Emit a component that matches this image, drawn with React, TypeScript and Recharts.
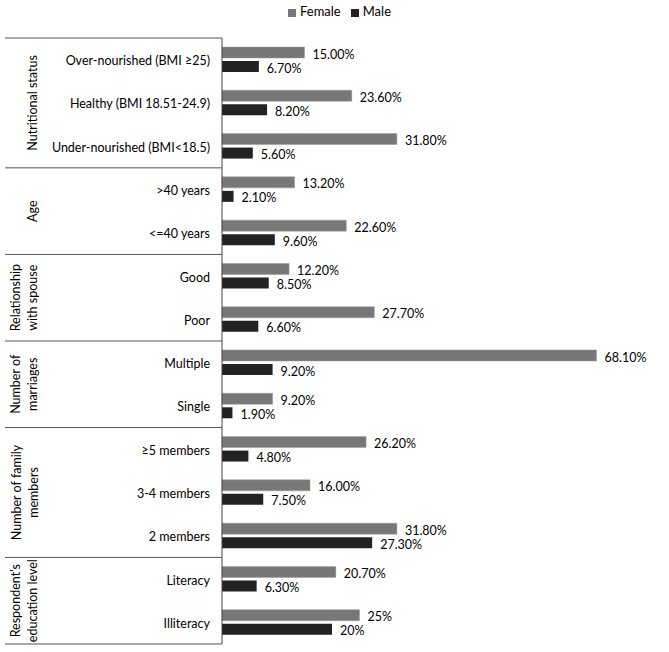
import { BarChart, Bar, XAxis, YAxis, Legend, LabelList } from 'recharts';

const categories = [
  'Over-nourished (BMI ≥25)',
  'Healthy (BMI 18.51-24.9)',
  'Under-nourished (BMI<18.5)',
  '>40 years',
  '<=40 years',
  'Good',
  'Poor',
  'Multiple',
  'Single',
  '≥5 members',
  '3-4 members',
  '2 members',
  'Literacy',
  'Illiteracy',
];

const groups = [
  { lines: ['Nutritional status'], size: 3 },
  { lines: ['Age'], size: 2 },
  { lines: ['Relationship', 'with spouse'], size: 2 },
  { lines: ['Number of', 'marriages'], size: 2 },
  { lines: ['Number of family', 'members'], size: 3 },
  { lines: ['Respondent’s', 'education level'], size: 2 },
];

const femaleValues = [15.0, 23.6, 31.8, 13.2, 22.6, 12.2, 27.7, 68.1, 9.2, 26.2, 16.0, 31.8, 20.7, 25];
const maleValues = [6.7, 8.2, 5.6, 2.1, 9.6, 8.5, 6.6, 9.2, 1.9, 4.8, 7.5, 27.3, 6.3, 20];
const labelDecimals = [2, 2, 2, 2, 2, 2, 2, 2, 2, 2, 2, 2, 2, 0];

const W = 669;
const H = 652;
const M = { top: 38, right: 7, bottom: 8, left: 0 };
const AXIS_W = 222;
const FONT = 'Lato, "Open Sans", sans-serif';
const FS = 12.5;

const data = categories.map((name, i) => ({
  name,
  female: femaleValues[i],
  male: maleValues[i],
}));

// which group each row belongs to, and whether it opens the group
const rowGroup: number[] = [];
const rowStart: boolean[] = [];
groups.forEach((g, gi) => {
  for (let k = 0; k < g.size; k++) {
    rowGroup.push(gi);
    rowStart.push(k === 0);
  }
});

const band = (H - M.top - M.bottom) / categories.length;

const CategoryTick = (props: any) => {
  const { y, payload } = props;
  const i = payload.index;
  const g = groups[rowGroup[i]];
  const top = y - band / 2;
  const lineStroke = '#555';
  return (
    <g>
      <text
        x={AXIS_W - 12}
        y={y + 1}
        textAnchor="end"
        dominantBaseline="central"
        fontSize={FS}
        fontFamily={FONT}
        fill="#000"
      >
        {payload.value}
      </text>
      {rowStart[i] && (
        <>
          <line x1={5} x2={AXIS_W} y1={top} y2={top} stroke={lineStroke} strokeWidth={1} />
          {g.lines.map((ln, li) => {
            const cx = 33 - (g.lines.length - 1 - li) * 17;
            const cy = top + (g.size * band) / 2;
            return (
              <text
                key={li}
                x={cx}
                y={cy}
                transform={`rotate(-90 ${cx} ${cy})`}
                textAnchor="middle"
                dominantBaseline="central"
                fontSize={FS}
                fontFamily={FONT}
                fill="#000"
              >
                {ln}
              </text>
            );
          })}
        </>
      )}
      {i === categories.length - 1 && (
        <line x1={5} x2={AXIS_W} y1={y + band / 2} y2={y + band / 2} stroke={lineStroke} strokeWidth={1} />
      )}
    </g>
  );
};

const ValueLabel = (props: any) => {
  const { x, y, width, height, index, value } = props;
  return (
    <text
      x={x + width + 8}
      y={y + height / 2 + 1.5}
      dominantBaseline="central"
      fontSize={FS}
      fontFamily={FONT}
      fill="#000"
    >
      {`${Number(value).toFixed(labelDecimals[index])}%`}
    </text>
  );
};

export default function App() {
  return (
    <div style={{ position: 'absolute', left: 0, top: 0, width: W, height: H, background: '#fff' }}>
      <BarChart
        width={W}
        height={H}
        data={data}
        layout="vertical"
        margin={M}
        barSize={11}
        barGap={3}
      >
        <XAxis type="number" domain={[0, 80]} hide />
        <YAxis
          type="category"
          dataKey="name"
          width={AXIS_W}
          axisLine={{ stroke: '#444', strokeWidth: 1 }}
          tickLine={false}
          tick={<CategoryTick />}
          interval={0}
        />
        <Legend
          layout="horizontal"
          verticalAlign="middle"
          align="center"
          iconType="square"
          iconSize={8}
          wrapperStyle={{ top: 3, left: 10, width: W, fontFamily: FONT, fontSize: 13 }}
          formatter={(v: any) => <span style={{ color: '#000' }}>{v}</span>}
        />
        <Bar dataKey="female" name="Female" fill="#777777" stroke="#9a9a9a" strokeWidth={0.5} isAnimationActive={false}>
          <LabelList dataKey="female" content={<ValueLabel />} />
        </Bar>
        <Bar dataKey="male" name="Male" fill="#222222" isAnimationActive={false}>
          <LabelList dataKey="male" content={<ValueLabel />} />
        </Bar>
      </BarChart>
    </div>
  );
}
